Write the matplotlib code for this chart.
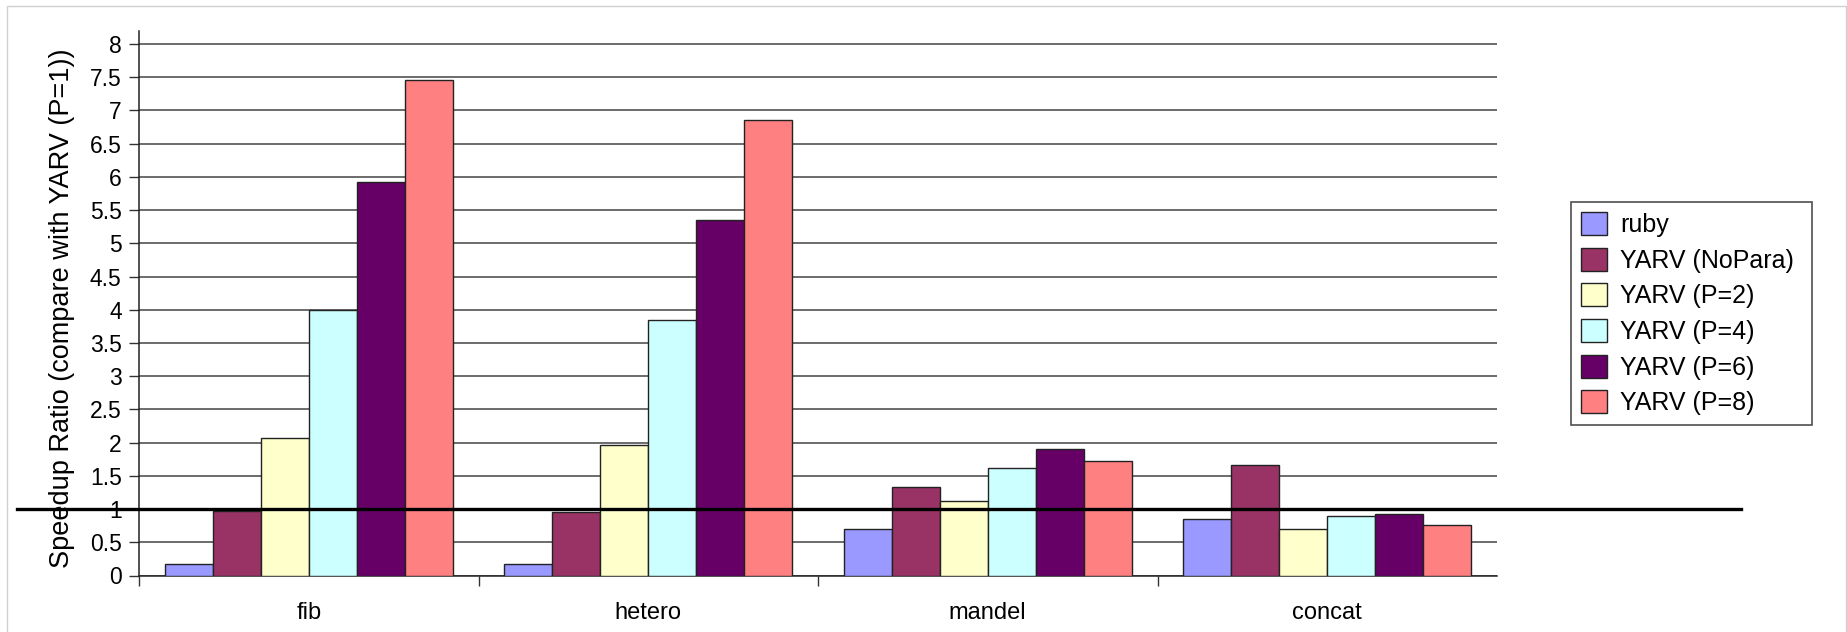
import numpy as np
import matplotlib.pyplot as plt
from matplotlib.lines import Line2D
from matplotlib.transforms import blended_transform_factory

plt.rcParams['font.family'] = ['Liberation Sans', 'DejaVu Sans']

benchmarks = ['fib', 'hetero', 'mandel', 'concat']
series = ['ruby', 'YARV (NoPara)', 'YARV (P=2)', 'YARV (P=4)', 'YARV (P=6)', 'YARV (P=8)']
colors = ['#9999FF', '#993366', '#FFFFCC', '#CCFFFF', '#660066', '#FF8080']

ruby = [0.18, 0.18, 0.70, 0.85]
yarv_nopara = [0.97, 0.95, 1.33, 1.67]
yarv_p2 = [2.07, 1.96, 1.12, 0.70]
yarv_p4 = [4.00, 3.85, 1.62, 0.90]
yarv_p6 = [5.92, 5.35, 1.90, 0.92]
yarv_p8 = [7.46, 6.86, 1.73, 0.76]
values = [ruby, yarv_nopara, yarv_p2, yarv_p4, yarv_p6, yarv_p8]

W, H = 1847, 632
fig = plt.figure(figsize=(W / 100, H / 100), dpi=100)
ax = fig.add_axes([139 / W, 56.5 / H, (1497 - 139) / W, (601.3 - 56.5) / H])

x = np.arange(len(benchmarks))
bw = 0.1415
for i, (name, vals, c) in enumerate(zip(series, values, colors)):
    ax.bar(x + (i - 2.5) * bw, vals, bw, color=c, edgecolor='#222222',
           linewidth=1.0, label=name, zorder=3)

ax.set_xlim(-0.5, 3.5)
ax.set_ylim(0, 8.2)
ax.set_yticks(np.arange(0, 8.01, 0.5))
ax.set_yticklabels([f'{v:g}' for v in np.arange(0, 8.01, 0.5)])
ax.yaxis.grid(True, color='#444444', linewidth=1.1, zorder=0)
ax.set_axisbelow(True)

ax.set_xticks(x)
ax.set_xticklabels(benchmarks)
ax.set_xticks([-0.5, 0.5, 1.5, 2.5], minor=True)
ax.tick_params(axis='x', which='major', length=0, pad=19, labelsize=17)
ax.tick_params(axis='x', which='minor', length=7.5, width=1, color='#333333', direction='out')
ax.tick_params(axis='y', length=7.5, width=1, color='#333333', direction='out',
               pad=5, labelsize=16.5)

for side in ['top', 'right']:
    ax.spines[side].set_visible(False)
for side in ['left', 'bottom']:
    ax.spines[side].set_color('#222222')
    ax.spines[side].set_linewidth(1.1)

ax.set_ylabel('Speedup Ratio (compare with YARV (P=1))', fontsize=19.5)
ax.yaxis.set_label_coords(-0.047, 0.49)

# baseline at speedup 1, running past the plot area
trans = blended_transform_factory(fig.transFigure, ax.transData)
ax.add_line(Line2D([16.5 / W, 1741 / W], [1, 1], transform=trans, color='black',
                   linewidth=2.4, clip_on=False, zorder=5))

leg = ax.legend(loc='upper left', bbox_to_anchor=(1571 / W, 1 - 439 / H, (1812 - 1571) / W, (439 - 202) / H),
                bbox_transform=fig.transFigure, mode='expand', fontsize=18, frameon=True,
                fancybox=False, edgecolor='#222222', handlelength=1.05, handleheight=1.05,
                handletextpad=0.5, labelspacing=0.42, borderpad=0.4, borderaxespad=0)
leg.get_frame().set_linewidth(1.2)

# thin grey frame around the whole picture
fig.add_artist(Line2D([7 / W, 7 / W, 1846 / W, 1846 / W], [0, 1 - 5.5 / H, 1 - 5.5 / H, 0],
                      transform=fig.transFigure, color='#d0d0d0', linewidth=1.0))

fig.savefig('out.png', dpi=100)
